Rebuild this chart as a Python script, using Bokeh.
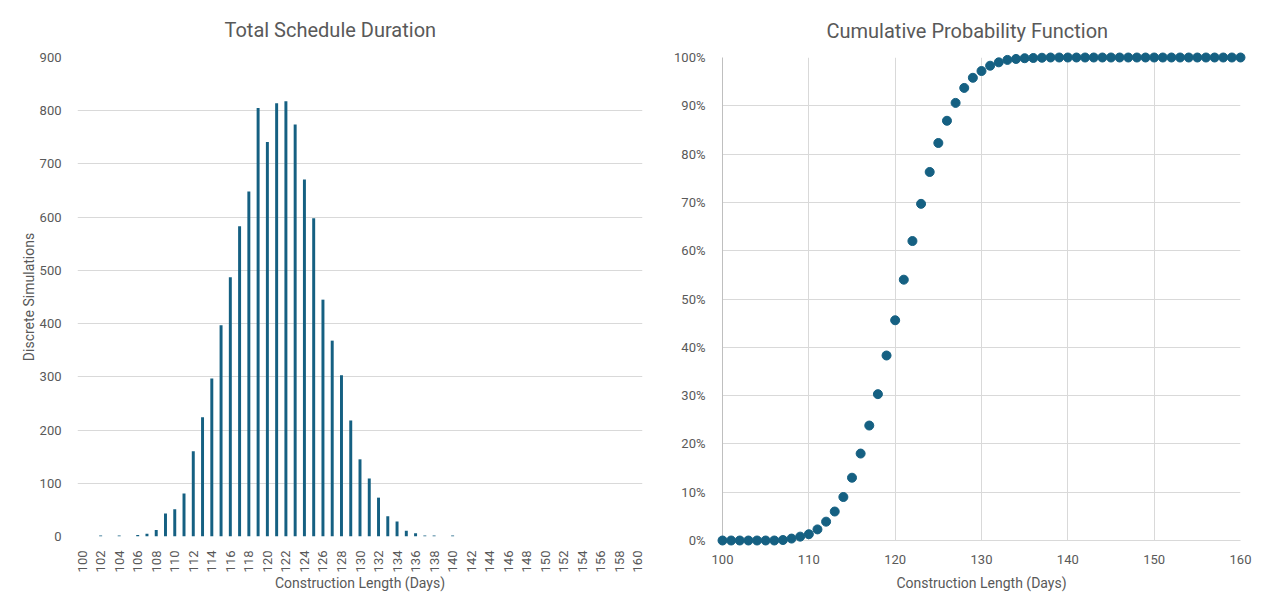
import math
from bokeh.plotting import figure
from bokeh.layouts import row
from bokeh.models import FixedTicker, PrintfTickFormatter, Range1d
from bokeh.embed import file_html
from bokeh.resources import INLINE

# ---- data ----
hist_days = list(range(100, 161))
hist_counts = [0, 0, 2, 0, 2, 0, 3, 5, 12, 43,
               51, 81, 160, 224, 297, 397, 487, 583, 648, 805,
               741, 814, 818, 774, 671, 598, 445, 368, 303, 218,
               145, 109, 73, 38, 28, 11, 6, 2, 2, 0,
               2, 0, 0, 0, 0, 0, 0, 0, 0, 0,
               0, 0, 0, 0, 0, 0, 0, 0, 0, 0, 0]
hist_ticks = list(range(100, 161, 2))

cdf_days = list(range(100, 161))
cdf_pct = [0.0, 0.0, 0.0, 0.0, 0.0, 0.0, 0.0, 0.1, 0.4, 0.8,
           1.3, 2.3, 3.9, 6.0, 9.0, 13.0, 18.0, 23.8, 30.3, 38.3,
           45.6, 54.0, 62.0, 69.7, 76.3, 82.3, 86.9, 90.6, 93.7, 95.8,
           97.2, 98.3, 99.0, 99.5, 99.7, 99.85, 99.9, 99.95, 100, 100,
           100, 100, 100, 100, 100, 100, 100, 100, 100, 100,
           100, 100, 100, 100, 100, 100, 100, 100, 100, 100, 100]
cdf_yticks = list(range(0, 101, 10))
cdf_xticks = list(range(100, 161, 10))

BLUE = "#156082"
TXT = "#595959"
GRID = "#d9d9d9"
FONT = "Roboto"


def style_common(p):
    p.outline_line_color = None
    p.background_fill_color = "white"
    p.border_fill_color = "white"
    p.title.text_font = FONT
    p.title.text_font_size = "20px"
    p.title.text_font_style = "normal"
    p.title.text_color = TXT
    p.title.align = "left"
    for ax in (p.xaxis[0], p.yaxis[0]):
        ax.major_label_text_font = FONT
        ax.major_label_text_font_size = "13px"
        ax.major_label_text_color = TXT
        ax.axis_label_text_font = FONT
        ax.axis_label_text_font_size = "14px"
        ax.axis_label_text_font_style = "normal"
        ax.axis_label_text_color = TXT
        ax.major_tick_line_color = None
        ax.minor_tick_line_color = None


# ---- left: histogram ----
p1 = figure(frame_width=565, frame_height=479, output_backend="svg", toolbar_location=None,
            title="Total Schedule Duration",
            x_range=Range1d(99.5, 160.5), y_range=Range1d(0, 900),
            min_border_left=77, min_border_right=21, min_border_top=56,
            min_border_bottom=10)
p1.vbar(x=hist_days, top=hist_counts, width=0.32, fill_color=BLUE, line_color=None)
style_common(p1)
p1.title.standoff = 31
p1.title.offset = 147
p1.xaxis[0].ticker = FixedTicker(ticks=hist_ticks)
p1.xaxis[0].major_label_orientation = math.pi / 2
p1.xaxis[0].axis_line_color = None
p1.xaxis[0].axis_label = "Construction Length (Days)"
p1.xaxis[0].major_label_standoff = 8
p1.xaxis[0].axis_label_standoff = 0
p1.yaxis[0].ticker = FixedTicker(ticks=list(range(0, 901, 100)))
p1.yaxis[0].axis_line_color = None
p1.yaxis[0].axis_label = "Discrete Simulations"
p1.yaxis[0].major_label_standoff = 10
p1.yaxis[0].axis_label_standoff = 0
p1.xgrid.grid_line_color = None
p1.ygrid.grid_line_color = GRID
p1.ygrid[0].ticker = FixedTicker(ticks=list(range(0, 901, 100)))

# ---- right: CDF ----
p2 = figure(frame_width=518, frame_height=483, output_backend="svg", toolbar_location=None,
            title="Cumulative Probability Function",
            x_range=Range1d(100, 160), y_range=Range1d(0, 100),
            min_border_left=59, min_border_right=15, min_border_top=55,
            min_border_bottom=10)
p2.scatter(x=cdf_days, y=cdf_pct, size=9, color=BLUE, level="overlay")
style_common(p2)
p2.title.standoff = 30
p2.title.offset = 104
p2.xaxis[0].ticker = FixedTicker(ticks=cdf_xticks)
p2.xaxis[0].axis_line_color = GRID
p2.xaxis[0].axis_label = "Construction Length (Days)"
p2.xaxis[0].major_label_standoff = 8
p2.xaxis[0].axis_label_standoff = 8
p2.yaxis[0].ticker = FixedTicker(ticks=cdf_yticks)
p2.yaxis[0].formatter = PrintfTickFormatter(format="%d%%")
p2.yaxis[0].axis_line_color = "#bfbfbf"
p2.yaxis[0].major_label_standoff = 11
p2.xgrid.grid_line_color = GRID
p2.ygrid.grid_line_color = GRID
p2.xgrid[0].ticker = FixedTicker(ticks=cdf_xticks)
p2.ygrid[0].ticker = FixedTicker(ticks=cdf_yticks)

layout = row(p1, p2)
open("out.html", "w").write(file_html(layout, INLINE))
